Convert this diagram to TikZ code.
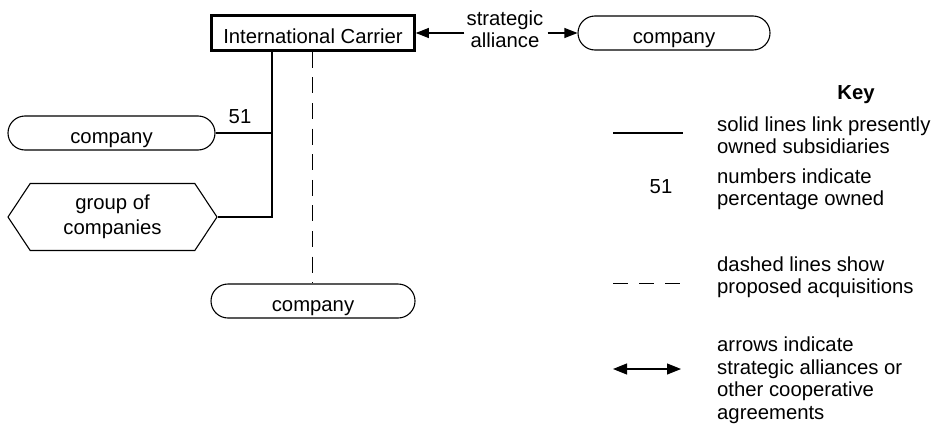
\documentclass[tikz,border=0pt]{standalone}
\usepackage{fontspec}
\setmainfont{Liberation Sans}
\usetikzlibrary{arrows.meta,shapes.symbols}
\begin{document}
\begin{tikzpicture}[x=1pt,y=-1pt,
  every node/.style={font=\fontsize{20.3}{22.5}\selectfont, inner sep=0pt},
  boxtext/.style={text height=21pt, text depth=0pt},
  unit/.style={draw, line width=1.1pt, rounded corners=17pt, minimum height=34pt, boxtext},
  carrier/.style={draw, line width=2.6pt, minimum width=203pt, minimum height=35pt,
    text height=20pt, text depth=0pt},
  group/.style={draw, line width=1.1pt, signal, signal to=west and east,
    signal pointer angle=113, minimum width=209pt, minimum height=67pt, align=center},
  owned/.style={line width=1.2pt},
  proposed/.style={line width=0.8pt, dash pattern=on 16pt off 9.6pt},
  alliance/.style={line width=1.1pt, -{Triangle[length=13pt,width=10pt]}},
  keytext/.style={anchor=west, align=left},
]
\useasboundingbox (0,0) rectangle (936,431);

% main structure
\node[carrier] (ic) at (313,33) {International Carrier};
\node[unit, minimum width=192pt] (c2) at (674,33) {company};
\node[align=center] (sa) at (505,29) {strategic\\[-1pt]alliance};
\node[unit, minimum width=207pt] (c1) at (111.5,133) {company};
\node[group] (grp) at (112.5,217) {group of\\[2pt]companies};
\node[unit, minimum width=204pt] (c3) at (313,301) {company};
\coordinate (trunk) at (272,50);
\coordinate (dash) at (312,50);

% ownership links
\draw[owned] (ic.south -| trunk) |- (grp.east);
\draw[owned] (c1.east) -- (c1.east -| trunk);
\node (pct) at (240,117) {51};
\draw[proposed] (ic.south -| dash) -- (c3.north -| dash);

% strategic alliance
\draw[alliance] (sa.west |- ic.east) ++(-2,0) coordinate (sal) -- (ic.east);
\draw[alliance] (sa.east |- c2.west) ++(4,0) coordinate (sar) -- (c2.west);

% key
\node[font=\fontsize{20.3}{22.5}\selectfont\bfseries] (key) at (856,95) {Key};
\coordinate (k1a) at (613,133); \coordinate (k1b) at (683,133);
\draw[owned] (k1a) -- (k1b);
\node[keytext] (t1) at (717,135) {solid lines link presently\\owned subsidiaries};
\node (k2) at (661,187) {51};
\node[keytext] (t2) at (717,189) {numbers indicate\\percentage owned};
\coordinate (k3a) at (613,283); \coordinate (k3b) at (683,283);
\draw[proposed, dash pattern=on 15pt off 11pt] (k3a) -- (k3b);
\node[keytext] (t3) at (717,277) {dashed lines show\\proposed acquisitions};
\coordinate (k4a) at (613,369); \coordinate (k4b) at (681,369);
\draw[line width=1.1pt, {Triangle[length=14pt,width=11pt]}-{Triangle[length=14pt,width=11pt]}] (k4a) -- (k4b);
\node[keytext] (t4) at (717,380) {arrows indicate\\strategic alliances or\\other cooperative\\agreements};
\end{tikzpicture}
\end{document}
